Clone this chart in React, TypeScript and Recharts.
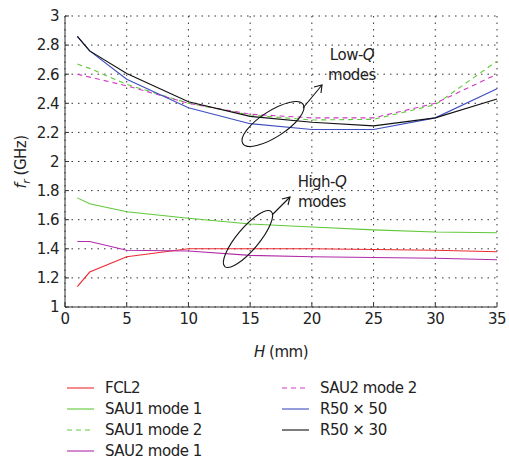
import React from "react";
import {
  LineChart,
  Line,
  XAxis,
  YAxis,
  CartesianGrid,
} from "recharts";

// H (mm) sample positions
const hValues = [1, 2, 5, 10, 15, 20, 25, 30, 35];

// resonant frequency f_r (GHz) per structure / mode
const fcl2 = [1.14, 1.24, 1.345, 1.4, 1.4, 1.4, 1.395, 1.39, 1.38];
const sau1Mode1 = [1.75, 1.71, 1.655, 1.61, 1.57, 1.55, 1.53, 1.515, 1.51];
const sau1Mode2 = [2.67, 2.64, 2.53, 2.4, 2.32, 2.285, 2.29, 2.39, 2.69];
const sau2Mode1 = [1.45, 1.45, 1.39, 1.385, 1.355, 1.345, 1.34, 1.335, 1.325];
const sau2Mode2 = [2.6, 2.58, 2.52, 2.4, 2.325, 2.3, 2.3, 2.4, 2.6];
const r50x50 = [2.86, 2.76, 2.565, 2.37, 2.26, 2.22, 2.22, 2.3, 2.5];
const r50x30 = [2.86, 2.76, 2.605, 2.41, 2.31, 2.27, 2.245, 2.3, 2.43];

const xTicks = [0, 5, 10, 15, 20, 25, 30, 35];
const yTicks = [1, 1.2, 1.4, 1.6, 1.8, 2, 2.2, 2.4, 2.6, 2.8, 3];

const series = [
  { key: "fcl2", name: "FCL2", values: fcl2, color: "#ee2a30", dash: undefined },
  { key: "sau1m1", name: "SAU1 mode 1", values: sau1Mode1, color: "#62c83a", dash: undefined },
  { key: "sau1m2", name: "SAU1 mode 2", values: sau1Mode2, color: "#62c83a", dash: "5 4" },
  { key: "sau2m1", name: "SAU2 mode 1", values: sau2Mode1, color: "#b02aa6", dash: undefined },
  { key: "sau2m2", name: "SAU2 mode 2", values: sau2Mode2, color: "#d038c4", dash: "5 4" },
  { key: "r5050", name: "R50 × 50", values: r50x50, color: "#3e4ec0", dash: undefined },
  { key: "r5030", name: "R50 × 30", values: r50x30, color: "#111111", dash: undefined },
];

const data = hValues.map((h, i) => {
  const row: Record<string, number> = { h };
  series.forEach((s) => {
    row[s.key] = s.values[i];
  });
  return row;
});

const FONT = "'DejaVu Sans', sans-serif";
const tickStyle = { fontSize: 15, fill: "#222", fontFamily: FONT, letterSpacing: -0.5 };

export default function App() {
  return (
    <div style={{ position: "absolute", left: 0, top: 0, width: 509, height: 462, background: "#fff" }}>
      <LineChart
        width={509}
        height={462}
        data={data}
        margin={{ top: 16, right: 12, left: 0, bottom: 125 }}
      >
        <CartesianGrid stroke="#333" strokeDasharray="1.5 5" />
        <XAxis
          dataKey="h"
          type="number"
          domain={[0, 35]}
          ticks={xTicks}
          height={30}
          tickSize={-4}
          tickMargin={10}
          stroke="#333"
          tick={tickStyle}
        />
        <XAxis
          xAxisId="top"
          orientation="top"
          type="number"
          domain={[0, 35]}
          ticks={xTicks}
          height={0}
          tickSize={-4}
          stroke="#333"
          tickFormatter={() => ""}
        />
        <YAxis
          type="number"
          domain={[1, 3]}
          ticks={yTicks}
          width={65}
          tickSize={-4}
          tickMargin={10}
          stroke="#333"
          tick={tickStyle}
          tickFormatter={(v: number) => String(Math.round(v * 10) / 10)}
        />
        <YAxis
          yAxisId="right"
          orientation="right"
          type="number"
          domain={[1, 3]}
          ticks={yTicks}
          width={0}
          tickSize={-4}
          stroke="#333"
          tickFormatter={() => ""}
        />
        {series.map((s) => (
          <Line
            key={s.key}
            dataKey={s.key}
            name={s.name}
            stroke={s.color}
            strokeWidth={1.1}
            strokeDasharray={s.dash}
            dot={false}
            isAnimationActive={false}
          />
        ))}
      </LineChart>

      {/* axis labels and annotations */}
      <svg
        width={509}
        height={462}
        style={{ position: "absolute", left: 0, top: 0, pointerEvents: "none" }}
        fontFamily={FONT}
      >
        <text
          transform="translate(26,162) rotate(-90)"
          textAnchor="middle"
          fontSize={15}
          fill="#222"
          letterSpacing={-0.5}
        >
          <tspan fontStyle="italic">f</tspan>
          <tspan fontStyle="italic" fontSize={11} dy={4}>r</tspan>
          <tspan dy={-4}> (GHz)</tspan>
        </text>
        <text x={281} y={357} textAnchor="middle" fontSize={15} fill="#222" letterSpacing={-0.5}>
          <tspan fontStyle="italic">H</tspan> (mm)
        </text>

        {/* Low-Q group */}
        <ellipse cx={273} cy={124} rx={36} ry={13} transform="rotate(-33 273 124)" fill="none" stroke="#111" strokeWidth={1.1} />
        <line x1={303} y1={108} x2={322} y2={85} stroke="#111" strokeWidth={1.1} />
        <polyline points="314,87 322,85 321,93" fill="none" stroke="#111" strokeWidth={1.1} />
        <text x={352} y={60} textAnchor="middle" fontSize={15} fill="#222" letterSpacing={-0.5}>
          Low-<tspan fontStyle="italic">Q</tspan>
        </text>
        <text x={352} y={80} textAnchor="middle" fontSize={15} fill="#222" letterSpacing={-0.5}>modes</text>

        {/* High-Q group */}
        <ellipse cx={248} cy={239} rx={36} ry={11} transform="rotate(-50 248 239)" fill="none" stroke="#111" strokeWidth={1.1} />
        <line x1={272} y1={215} x2={290} y2={197} stroke="#111" strokeWidth={1.1} />
        <polyline points="282,199 290,197 288,205" fill="none" stroke="#111" strokeWidth={1.1} />
        <text x={322} y={187} textAnchor="middle" fontSize={15} fill="#222" letterSpacing={-0.5}>
          High-<tspan fontStyle="italic">Q</tspan>
        </text>
        <text x={322} y={207} textAnchor="middle" fontSize={15} fill="#222" letterSpacing={-0.5}>modes</text>

        {/* legend */}
        {series.map((s, i) => {
          const col = i < 4 ? 0 : 1;
          const row = i < 4 ? i : i - 4;
          const x0 = col === 0 ? 67 : 282;
          const y = 388 + row * 21;
          return (
            <g key={s.key}>
              <line x1={x0} y1={y} x2={x0 + 27} y2={y} stroke={s.color} strokeWidth={1.1} strokeDasharray={s.dash} />
              <text x={x0 + 38} y={y + 5} fontSize={15} fill="#222" letterSpacing={-0.5}>{s.name}</text>
            </g>
          );
        })}
      </svg>
    </div>
  );
}
